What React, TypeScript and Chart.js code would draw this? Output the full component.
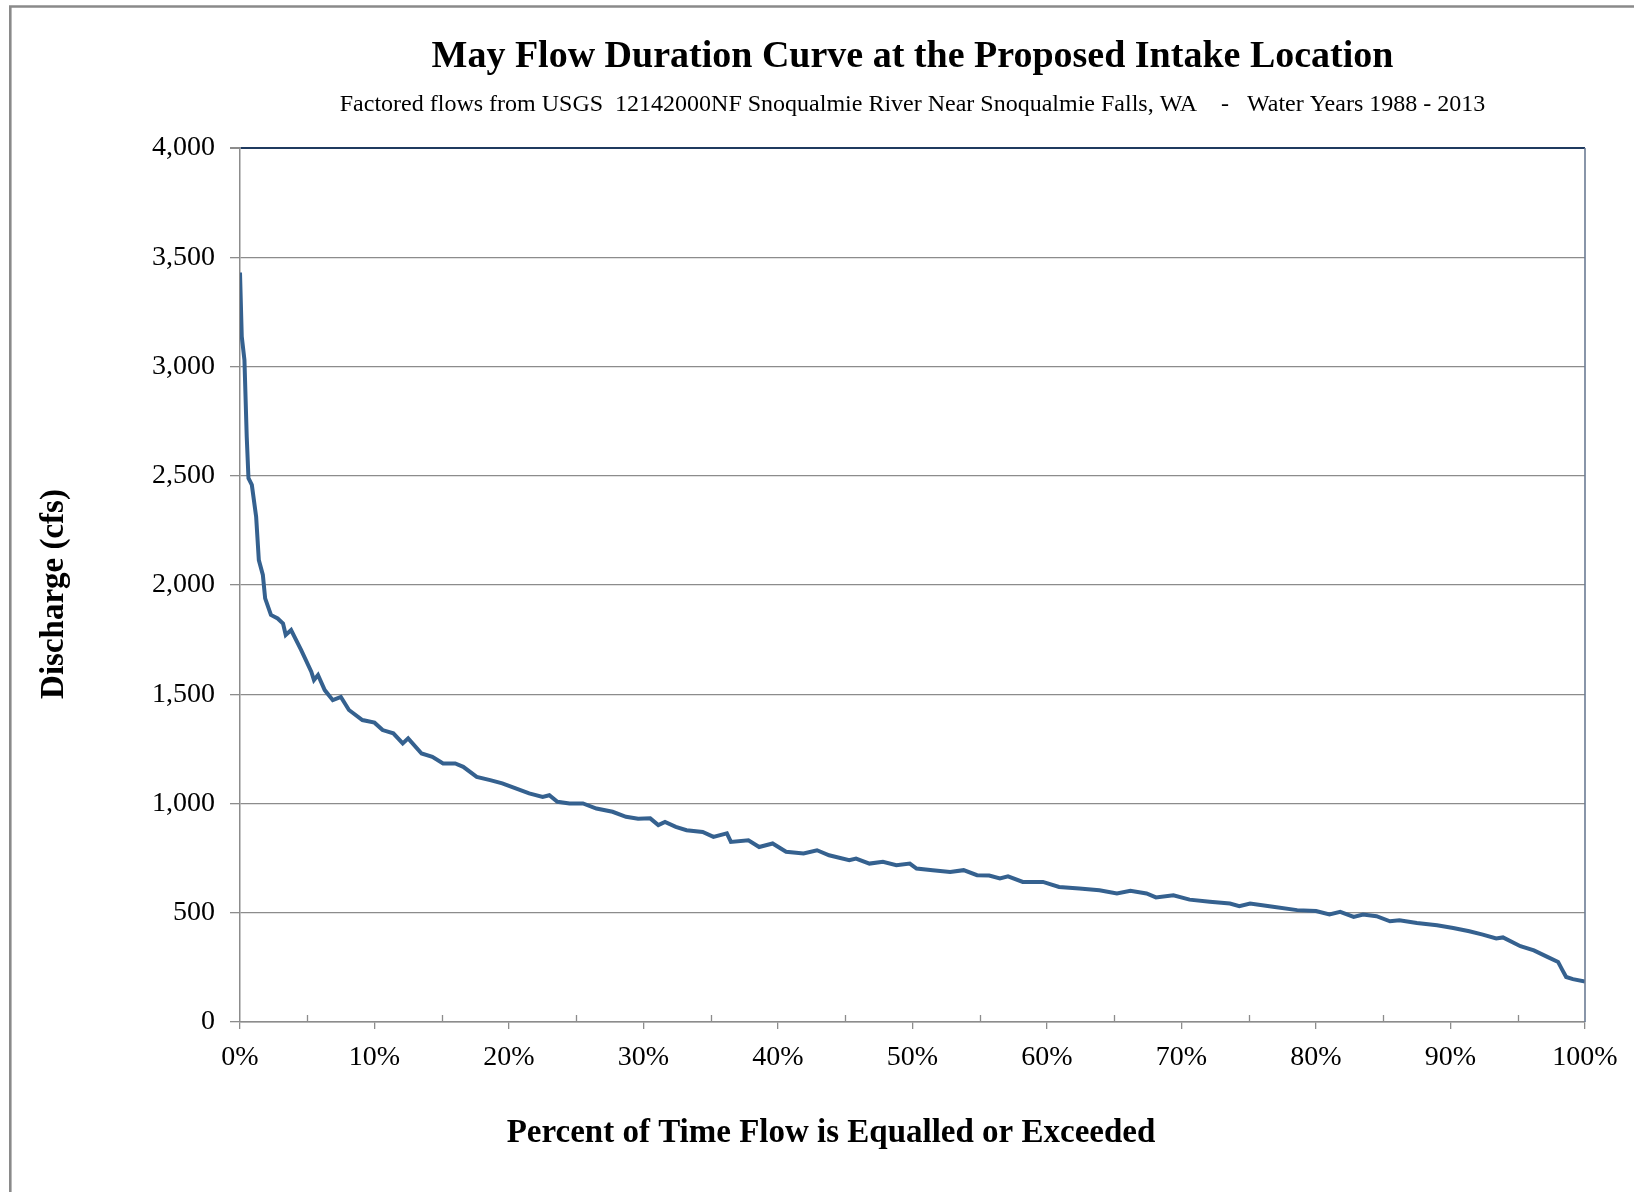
import React, { useEffect, useRef } from 'react';
import { Chart, registerables } from 'chart.js';

Chart.register(...registerables);

const TITLE = 'May Flow Duration Curve at the Proposed Intake Location';
const SUBTITLE = 'Factored flows from USGS  12142000NF Snoqualmie River Near Snoqualmie Falls, WA    -   Water Years 1988 - 2013';
const X_TITLE = 'Percent of Time Flow is Equalled or Exceeded';
const Y_TITLE = 'Discharge (cfs)';

const exceedancePct = [
  0, 0.13, 0.33, 0.5, 0.63, 0.88, 1.2, 1.4, 1.7, 1.87, 2.3, 2.8, 3.2, 3.4, 3.8, 4.55,
  5.3, 5.5, 5.8, 6.3, 6.9, 7.5, 8.1, 9.1, 10.0, 10.6, 11.4, 12.1, 12.5, 13.5, 14.3, 15.1,
  16.0, 16.6, 17.6, 18.6, 19.5, 20.5, 21.5, 22.5, 23.0, 23.6, 24.5, 25.5, 26.5, 27.7, 28.7, 29.6,
  30.5, 31.1, 31.6, 32.4, 33.2, 34.4, 35.2, 36.2, 36.5, 37.8, 38.6, 39.6, 40.6, 41.9, 42.9, 43.8,
  45.3, 45.8, 46.8, 47.8, 48.8, 49.8, 50.3, 51.5, 52.8, 53.8, 54.8, 55.7, 56.5, 57.1, 58.2, 59.7,
  60.9, 62.4, 63.9, 65.2, 66.2, 67.4, 68.1, 69.4, 70.6, 72.1, 73.6, 74.3, 75.1, 76.8, 78.6, 80.0,
  81.0, 81.8, 82.8, 83.5, 84.5, 85.5, 86.2, 87.5, 89.0, 90.2, 91.4, 92.4, 93.4, 93.9, 95.2, 96.2,
  97.2, 98.0, 98.3, 98.6, 99.1, 100,
];

const dischargeCfs = [
  3430, 3137, 3030, 2679, 2489, 2458, 2313, 2114, 2046, 1939, 1863, 1847, 1824, 1771, 1794, 1702,
  1603, 1565, 1588, 1519, 1473, 1488, 1428, 1382, 1370, 1336, 1321, 1275, 1298, 1229, 1214, 1183,
  1183, 1168, 1122, 1107, 1092, 1069, 1046, 1030, 1038, 1008, 1000, 1000, 977, 962, 939, 930,
  932, 901, 916, 893, 878, 870, 847, 863, 824, 832, 801, 817, 779, 771, 786, 763,
  741, 748, 725, 733, 718, 725, 702, 695, 687, 695, 672, 670, 657, 667, 641, 641,
  618, 611, 603, 588, 600, 588, 570, 580, 560, 550, 542, 530, 542, 527, 512, 508,
  492, 504, 481, 492, 484, 461, 466, 453, 443, 430, 415, 400, 382, 387, 347, 328,
  298, 275, 240, 206, 196, 185,
];

const X_TICK_STEP = 10;
const X_MINOR_TICKS = [5, 15, 25, 35, 45, 55, 65, 75, 85, 95];
const Y_TICK_STEP = 500;
const Y_MAX = 4000;

const FONT = "'Liberation Serif', 'Times New Roman', serif";
const GRID = '#8c8c8c';
const NAVY = '#1f3a5f';
const LINE = '#35618f';

const decorPlugin = {
  id: 'decor',
  beforeDraw(chart: any) {
    const ctx = chart.ctx;
    ctx.save();
    ctx.strokeStyle = '#8a8a8a';
    ctx.lineWidth = 2.6;
    ctx.beginPath();
    ctx.moveTo(10.3, 2000);
    ctx.lineTo(10.3, 6.5);
    ctx.lineTo(2000, 6.5);
    ctx.stroke();
    ctx.restore();
  },
  afterDraw(chart: any) {
    const ctx = chart.ctx;
    const { chartArea } = chart;
    const xs = chart.scales.x;
    ctx.save();
    // plot area right border
    ctx.strokeStyle = '#6b7b94';
    ctx.lineWidth = 1.6;
    ctx.beginPath();
    ctx.moveTo(chartArea.right, chartArea.top);
    ctx.lineTo(chartArea.right, chartArea.bottom);
    ctx.stroke();
    // minor inside ticks
    ctx.strokeStyle = GRID;
    ctx.lineWidth = 1.3;
    ctx.beginPath();
    for (const v of X_MINOR_TICKS) {
      const px = Math.round(xs.getPixelForValue(v)) + 0.5;
      ctx.moveTo(px, chartArea.bottom);
      ctx.lineTo(px, chartArea.bottom - 7);
    }
    ctx.stroke();
    // axis titles
    ctx.fillStyle = '#000';
    ctx.font = `bold 33px ${FONT}`;
    ctx.textAlign = 'center';
    ctx.textBaseline = 'middle';
    ctx.fillText(X_TITLE, 831, 1133);
    ctx.translate(54, 594);
    ctx.rotate(-Math.PI / 2);
    ctx.fillText(Y_TITLE, 0, 0);
    ctx.restore();
  },
};

export default function App() {
  const ref = useRef<HTMLCanvasElement | null>(null);

  useEffect(() => {
    const canvas = ref.current;
    if (!canvas) return;
    const points = exceedancePct.map((x, i) => ({ x, y: dischargeCfs[i] }));
    const chart = new Chart(canvas, {
      type: 'line',
      data: {
        datasets: [
          {
            label: 'May flow',
            data: points,
            borderColor: LINE,
            borderWidth: 4,
            pointRadius: 0,
            tension: 0,
            fill: false,
          },
        ],
      },
      options: {
        animation: false,
        responsive: false,
        devicePixelRatio: 1,
        layout: { padding: { left: 31, right: 49, top: 0, bottom: 0 } },
        plugins: {
          legend: { display: false },
          tooltip: { enabled: false },
          title: {
            display: true,
            text: TITLE,
            fullSize: false,
            color: '#000',
            font: { family: FONT, size: 38, weight: 'bold' },
            padding: { top: 34.2, bottom: 10.8 },
          },
          subtitle: {
            display: true,
            text: SUBTITLE,
            fullSize: false,
            color: '#000',
            font: { family: FONT, size: 24, weight: 'normal' },
            padding: { top: 0, bottom: 28.6 },
          },
        },
        scales: {
          x: {
            type: 'linear',
            min: 0,
            max: 100,
            ticks: {
              stepSize: X_TICK_STEP,
              color: '#000',
              font: { family: FONT, size: 28 },
              padding: 12,
              maxRotation: 0,
              callback: (v: any) => `${v}%`,
            },
            grid: {
              drawOnChartArea: false,
              drawTicks: true,
              tickLength: 7,
              color: GRID,
              lineWidth: 1.3,
            },
            border: { display: true, color: GRID, width: 1.5 },
            afterFit: (scale: any) => {
              scale.height = 170;
            },
          },
          y: {
            type: 'linear',
            min: 0,
            max: Y_MAX,
            ticks: {
              stepSize: Y_TICK_STEP,
              color: '#000',
              font: { family: FONT, size: 28 },
              padding: 15,
              callback: (v: any) => Number(v).toLocaleString('en-US'),
            },
            grid: {
              drawTicks: true,
              tickLength: 10,
              color: (c: any) => (c.tick && c.tick.value === Y_MAX ? NAVY : GRID),
              tickColor: GRID,
              lineWidth: (c: any) => (c.tick && c.tick.value === Y_MAX ? 2 : 1.3),
            },
            border: { display: true, color: GRID, width: 1.5 },
            afterFit: (scale: any) => {
              scale.width = 209;
            },
          },
        },
      },
      plugins: [decorPlugin],
    });
    return () => chart.destroy();
  }, []);

  return (
    <div style={{ position: 'absolute', left: 0, top: 0, width: 1634, height: 1192, background: '#fff' }}>
      <canvas ref={ref} width={1634} height={1192} style={{ display: 'block', width: 1634, height: 1192 }} />
    </div>
  );
}
